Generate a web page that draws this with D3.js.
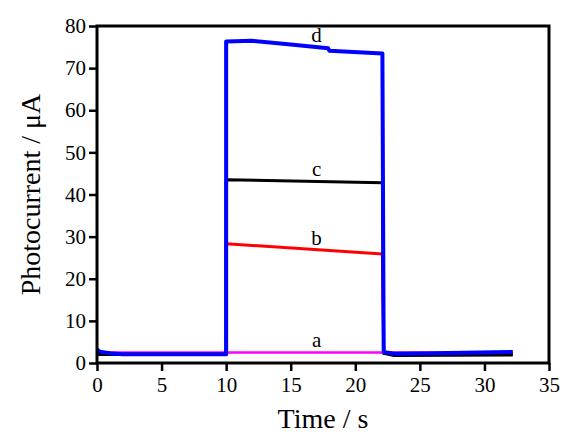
<!DOCTYPE html>
<html><head><meta charset="utf-8">
<script src="https://cdn.jsdelivr.net/npm/d3@7"></script>
</head><body style="margin:0">
<svg id="c" width="566" height="437" style="display:block;background:#fff"></svg>
<script>
const xTicks = [0,5,10,15,20,25,30,35];
const yTicks = [0,10,20,30,40,50,60,70,80];
// series: time (s) and photocurrent (μA)
const aT = [0, 0.3, 1, 22, 32.2];
const aV = [3.0, 2.6, 2.5, 2.5, 2.3];
const bT = [0, 10, 10, 22.1, 22.2, 32.2];
const bV = [2.2, 2.2, 28.3, 25.9, 2.3, 2.3];
const cT = [0, 10, 10, 22.1, 22.2, 23, 32.2];
const cV = [2.0, 2.0, 43.5, 42.8, 2.3, 1.8, 1.9];
const dT = [0, 0.2, 1, 2, 10, 10, 12, 15, 17.9, 18.0, 22.1, 22.2, 23, 26, 32.2];
const dV = [3.2, 2.7, 2.3, 2.1, 2.1, 76.3, 76.5, 75.6, 74.7, 74.1, 73.5, 2.6, 2.2, 2.3, 2.6];
const labels = ['a','b','c','d'];
const colors = ['#ff00ff','#ff0000','#000000','#0000ff'];
const labelPos = [[17, 2.5],[17, 26.9],[17, 43.1],[17, 75.0]];

const svg = d3.select('#c');
const L=97, R=549, T=26, B=363;
const x = d3.scaleLinear().domain([0,35]).range([L,R]);
const y = d3.scaleLinear().domain([0,80]).range([B,T]);

const series = [[aT,aV],[bT,bV],[cT,cV],[dT,dV]];
const widths = [2.5,3,3,4];
const line = d3.line().x(d=>x(d[0])).y(d=>y(d[1]));
series.forEach((s,i)=>{
  const pts = s[0].map((t,j)=>[t,s[1][j]]);
  svg.append('path').attr('d',line(pts)).attr('fill','none')
    .attr('stroke',colors[i]).attr('stroke-width',widths[i]).attr('stroke-linejoin','round');
});

svg.append('rect').attr('x',L).attr('y',T).attr('width',R-L).attr('height',B-T)
  .attr('fill','none').attr('stroke','#000').attr('stroke-width',3);

const xAxis = svg.append('g').attr('transform','translate(0,'+B+')')
  .call(d3.axisBottom(x).tickValues(xTicks).tickSize(8).tickPadding(6).tickFormat(d3.format('d')));
const yAxis = svg.append('g').attr('transform','translate('+L+',0)')
  .call(d3.axisLeft(y).tickValues(yTicks).tickSize(8).tickPadding(3).tickFormat(d3.format('d')));
[xAxis,yAxis].forEach(g=>{
  g.select('.domain').remove();
  g.attr('font-family',null).attr('font-size',null);
  g.selectAll('line').attr('stroke','#000').attr('stroke-width',2.5);
  g.selectAll('text').attr('fill','#000').attr('font-size',21);
});

labels.forEach((l,i)=>{
  svg.append('text').attr('font-size',21).attr('x',x(labelPos[i][0])).attr('y',y(labelPos[i][1])-5)
    .attr('text-anchor','middle').text(l);
});

svg.append('text').attr('font-size',28).attr('x',(L+R)/2).attr('y',428).attr('text-anchor','middle')
  .text('Time / s');
svg.append('text').attr('font-size',28).attr('transform','translate(40,'+((T+B)/2)+') rotate(-90)')
  .attr('text-anchor','middle').text('Photocurrent / μA');

svg.selectAll('text').attr('font-family','Times New Roman');
</script>
</body></html>
